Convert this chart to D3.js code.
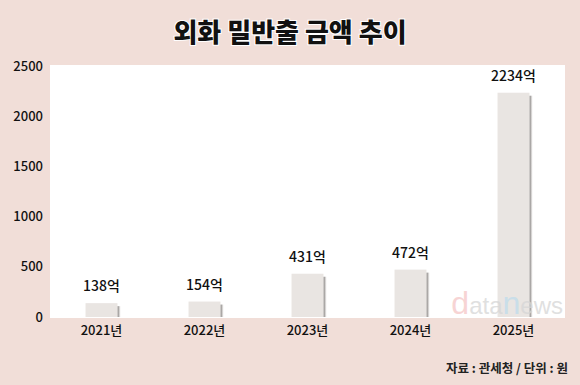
<!DOCTYPE html>
<html>
<head>
<meta charset="utf-8">
<script src="https://cdn.jsdelivr.net/npm/d3@7"></script>
<style>
  html, body { margin: 0; padding: 0; background: #f1ded8; }
  svg { display: block; }
  text { font-family: "Noto Sans CJK KR", "Noto Sans", sans-serif; }
</style>
</head>
<body>
<div class="chart"></div>
<script>
const years  = ['2021년', '2022년', '2023년', '2024년', '2025년']
const values = [138, 154, 431, 472, 2234]
const yTicks = [0, 500, 1000, 1500, 2000, 2500]

const width = 580, height = 385
const margin = { top: 66, right: 15, bottom: 68, left: 50 }

const svg = d3.select('.chart').append('svg')
  .attr('width', width)
  .attr('height', height)

const defs = svg.append('defs')
const grad = defs.append('linearGradient').attr('id', 'shade')
grad.append('stop').attr('offset', '0%').attr('stop-color', '#6f6b69').attr('stop-opacity', 1)
grad.append('stop').attr('offset', '100%').attr('stop-color', '#bdb9b6').attr('stop-opacity', 0.2)

svg.append('rect')
  .attr('width', width).attr('height', height)
  .attr('fill', '#f1ded8')

const x = d3.scaleBand()
  .domain(years)
  .range([margin.left, width - margin.right])
  .paddingInner(0.69)
  .paddingOuter(0.345)

const y = d3.scaleLinear()
  .domain([0, 2500])
  .range([height - margin.bottom, margin.top])

// white plot area
svg.append('rect')
  .attr('x', margin.left)
  .attr('y', y(2500) - 1)
  .attr('width', width - margin.right - margin.left)
  .attr('height', y(0) - y(2500) + 2)
  .attr('fill', '#ffffff')

const data = years.map((k, i) => ({ year: k, value: values[i] }))

const bars = svg.append('g').selectAll('g')
  .data(data)
  .join('g')

bars.append('rect')
  .attr('x', d => x(d.year) + x.bandwidth())
  .attr('y', d => y(d.value) + 3)
  .attr('width', 3)
  .attr('height', d => y(0) - y(d.value) - 3)
  .attr('fill', 'url(#shade)')

bars.append('rect')
  .attr('x', d => x(d.year))
  .attr('y', d => y(d.value))
  .attr('width', x.bandwidth())
  .attr('height', d => y(0) - y(d.value))
  .attr('fill', '#e9e5e2')

bars.append('text')
  .attr('x', d => x(d.year) + x.bandwidth() / 2)
  .attr('y', d => y(d.value) - 12)
  .attr('text-anchor', 'middle')
  .attr('font-size', 14)
  .attr('font-weight', 500)
  .attr('fill', '#111')
  .text(d => d.value + '억')

// watermark
const wm = svg.append('text')
  .attr('x', 563).attr('y', 314)
  .attr('text-anchor', 'end')
  .attr('opacity', 0.75)
  .style('font-family', 'Arial, "Liberation Sans", sans-serif')
  .attr('font-size', 24)
wm.append('tspan').text('d').attr('fill', '#f5c6c6').attr('font-size', 32)
wm.append('tspan').text('ata').attr('fill', '#d6d6d6')
wm.append('tspan').text('n').attr('fill', '#bfdcec').attr('font-size', 32)
wm.append('tspan').text('ews').attr('fill', '#d6d6d6')

// axes
const yAxis = svg.append('g')
  .attr('transform', `translate(${margin.left},0)`)
  .call(d3.axisLeft(y).tickValues(yTicks).tickFormat(d3.format('d')).tickSize(0).tickPadding(7))
yAxis.select('.domain').remove()
yAxis.selectAll('text').attr('font-size', 13).attr('font-weight', 500).attr('fill', '#111')
  .style('font-family', '"Noto Sans CJK KR", sans-serif')

const xAxis = svg.append('g')
  .attr('transform', `translate(0,${y(0)})`)
  .call(d3.axisBottom(x).tickSize(0).tickPadding(9))
xAxis.select('.domain').remove()
xAxis.selectAll('text').attr('font-size', 13).attr('font-weight', 500).attr('fill', '#111')
  .style('font-family', '"Noto Sans CJK KR", sans-serif')

// title
svg.append('text')
  .attr('x', 290).attr('y', 42)
  .attr('text-anchor', 'middle')
  .attr('font-size', 26)
  .attr('font-weight', 900)
  .attr('fill', '#111')
  .attr('stroke', '#ffffff')
  .attr('stroke-width', 2)
  .attr('paint-order', 'stroke')
  .text('외화 밀반출 금액 추이')

// source
svg.append('text')
  .attr('x', 568).attr('y', 373)
  .attr('text-anchor', 'end')
  .attr('font-size', 12.5)
  .attr('font-weight', 700)
  .attr('fill', '#222')
  .text('자료 : 관세청 / 단위 : 원')
</script>
</body>
</html>
